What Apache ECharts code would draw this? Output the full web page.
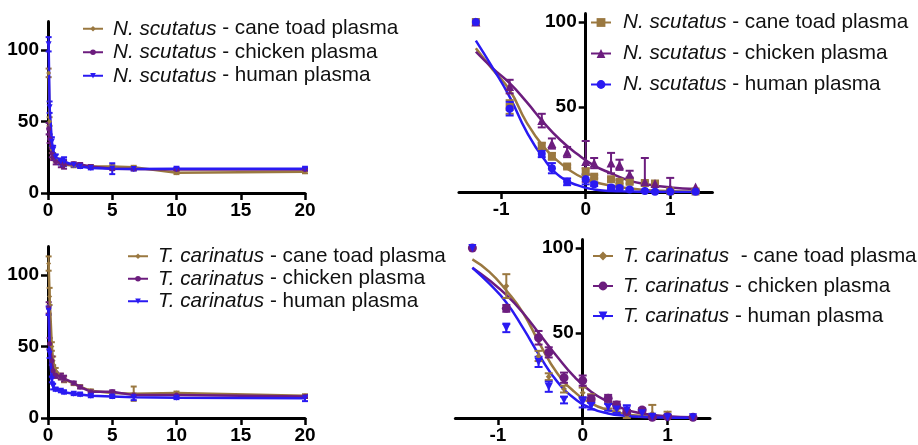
<!DOCTYPE html>
<html><head><meta charset="utf-8">
<script src="https://cdn.jsdelivr.net/npm/echarts@6/dist/echarts.min.js"></script>
<style>html,body{margin:0;padding:0;background:#fff}#c{width:918px;height:445px}</style>
</head><body><div id="c"></div>
<script>
const FONT = '"Liberation Sans", Arial, sans-serif';
const C_TOAD = '#9A7840', C_CHICK = '#6C1D7E', C_HUMAN = '#2A1AF2';

// x values: time-course (left panels) and log10 (right panels)
const linX = [0.05, 0.125, 0.3, 0.4, 0.6, 1, 1.25, 2, 2.5, 3.33, 5, 6.67, 10, 20];
const logX = [-1.3, -0.9, -0.52, -0.4, -0.22, 0, 0.1, 0.3, 0.4, 0.52, 0.7, 0.82, 1, 1.3];
const fitX = [-1.3, -1.1, -0.9, -0.7, -0.5, -0.3, -0.1, 0.1, 0.3, 0.5, 0.7, 1.0, 1.3];

// tick labels
const linTicksX = [0, 5, 10, 15, 20];
const linTicksY = [0, 50, 100];
const logTicksX = [-1, 0, 1];
const logTicksY = [50, 100];

// N. scutatus - left (time course)
const tlToad    = [84, 50, 30, 26, 23, 21, 20, 19, 19, 18.5, 18.5, 18, 14.2, 14.8];
const tlChicken = [45, 38, 28, 25, 22, 21, 20, 20.5, 20, 18.5, 17, 16.8, 16.5, 16.5];
const tlHuman   = [104, 60, 36, 30, 25, 22, 22, 19.5, 18.5, 17.5, 17, 16.8, 17, 17];
const tlToadErr    = [3, 3, 2, 2, 1, 1, 1, 1, 1, 1, 1, 1, 1, 1];
const tlChickenErr = [4, 3, 3, 2, 2, 3, 3, 1, 1, 1, 1, 1, 1, 1];
const tlHumanErr   = [5, 4, 3, 3, 2, 2, 3, 1, 1, 1, 3.8, 1, 1, 1];

// N. scutatus - right (log scale)
const trToad    = [100, 50, 27, 21, 15, 12, 9, 7.5, 6, 6, 5.3, 5, 0.5, 0.3];
const trChicken = [100, 62, 42, 28.5, 23.5, 18, 17, 17, 16, 10.5, 6, 5, 2.3, 3];
const trHuman   = [100, 49, 22.5, 14, 6, 7.5, 4.5, 2.7, 2.4, 1.4, 0.6, 0.2, 0.2, 0.2];
const trToadErr    = [0, 4, 2, 2, 1, 2, 1, 1, 1, 1, 1, 1, 1, 1];
const trChickenErr = [0, 4, 4, 3, 3, 12, 3, 6, 3, 2, 14, 0, 6, 0];
const trHumanErr   = [0, 4, 2, 3, 2, 3, 1, 1, 1, 0.5, 0.5, 0.5, 0.5, 0.5];
const trToadFit    = [84.5, 72, 60, 41, 26.7, 17, 10, 6, 3.7, 2.2, 1.2, 0.5, 0.3];
const trChickenFit = [82.5, 72.7, 64, 53, 41, 30.6, 22.3, 15.5, 11, 7, 4.7, 2.7, 1.8];
const trHumanFit   = [89, 73, 56, 35.5, 19.8, 9, 4, 1.5, 0.6, 0.3, 0.1, 0, 0];

// T. carinatus - left (time course)
const blToad    = [108, 85, 50, 40, 33, 29, 27, 24, 22, 19, 17.5, 17, 17.5, 15.6];
const blChicken = [77, 52, 40, 33, 30, 29, 27.6, 24.5, 21.6, 18.4, 18.4, 16, 16, 15];
const blHuman   = [75, 45, 27, 22, 20, 19, 18, 17, 16.5, 15.5, 15, 14.5, 14.2, 13.8];
const blToadErr    = [5, 6, 3, 3, 2, 2, 2, 1, 1, 1, 1, 5, 1, 1];
const blChickenErr = [4, 4, 3, 3, 2, 2, 2, 1, 1, 1, 1, 1, 1, 1];
const blHumanErr   = [3, 3, 2, 2, 1, 1, 1, 1, 1, 1, 1, 2, 1, 2];

// T. carinatus - right (log scale)
const brToad    = [100, 77.6, 36.5, 24.3, 17, 14.9, 12, 7.6, 4.7, 1.4, 3, 2.7, 2.7, 0.3];
const brChicken = [100, 64.5, 47.2, 38.6, 23.7, 22, 11.2, 11.6, 7.6, 3.7, 4.7, 0.4, 0.8, 0.4];
const brHuman   = [100, 53, 33, 18.4, 10.6, 9.2, 7, 6.3, 5, 4.5, 2.8, 0.8, 0.4, 0.4];
const brToadErr    = [0, 7, 3, 2, 2, 3, 2, 2, 1, 2, 2, 5, 1, 0];
const brChickenErr = [0, 2, 4, 3, 3, 3, 2, 2, 2, 1, 1, 1, 1, 0];
const brHumanErr   = [0, 2.5, 3, 3, 2, 3, 2, 2, 2, 3, 2, 1, 1, 0];
const brToadFit    = [93.3, 86, 75, 61.6, 43, 26.3, 15.5, 8.6, 4.7, 2.4, 1.2, 0.5, 0.2];
const brChickenFit = [88.4, 81, 72.4, 61.6, 48.8, 36, 24.3, 15.5, 9.6, 5.1, 2.7, 1, 0.4];
const brHumanFit   = [88.4, 79, 68, 52.7, 36, 21.4, 11.6, 5.7, 2.7, 1.3, 0.6, 0.2, 0.1];

// legend texts
const legendText = {
  tlToad: ['N. scutatus', ' - cane toad plasma'],
  tlChicken: ['N. scutatus', ' - chicken plasma'],
  tlHuman: ['N. scutatus', ' - human plasma'],
  trToad: ['N. scutatus', ' - cane toad plasma'],
  trChicken: ['N. scutatus', ' - chicken plasma'],
  trHuman: ['N. scutatus', ' - human plasma'],
  blToad: ['T. carinatus', ' - cane toad plasma'],
  blChicken: ['T. carinatus', ' - chicken plasma'],
  blHuman: ['T. carinatus', ' - human plasma'],
  brToad: ['T. carinatus', '  - cane toad plasma'],
  brChicken: ['T. carinatus', ' - chicken plasma'],
  brHuman: ['T. carinatus', ' - human plasma']
};

const TRI_DOWN = 'path://M0,0 L10,0 L5,9 Z';

const chart = echarts.init(document.getElementById('c'));

const grids = [
  { left: 48, top: 21.4, width: 257, height: 171.6 },
  { left: 458.95, top: 13.5, width: 253.5, height: 178.5 },
  { left: 48, top: 246.4, width: 257, height: 171.6 },
  { left: 455.4, top: 239.5, width: 254.6, height: 178.5 }
];

const axisLine = { show: true, lineStyle: { color: '#000', width: 3 } };
const tickStyle = { lineStyle: { color: '#000', width: 2.5 }, length: 7, inside: false };
const labelStyle = { color: '#000', fontFamily: FONT, fontWeight: 'bold', fontSize: 19 };

function linXAxis(gi) {
  return { type: 'value', gridIndex: gi, min: 0, max: 20, interval: 5,
    axisLine, splitLine: { show: false },
    axisTick: Object.assign({ show: true, customValues: linTicksX }, tickStyle),
    axisLabel: Object.assign({ margin: 8, customValues: linTicksX }, labelStyle) };
}
function linYAxis(gi) {
  return { type: 'value', gridIndex: gi, min: 0, max: 120,
    axisLine, splitLine: { show: false },
    axisTick: Object.assign({ show: true, customValues: linTicksY }, tickStyle),
    axisLabel: Object.assign({ margin: 9, customValues: linTicksY }, labelStyle) };
}
function logXAxis(gi) {
  return { type: 'value', gridIndex: gi, min: -1.5, max: 1.5,
    axisLine, splitLine: { show: false },
    axisTick: Object.assign({ show: true, customValues: logTicksX }, tickStyle),
    axisLabel: Object.assign({ margin: 8, customValues: logTicksX }, labelStyle) };
}
// y axis of log panels sits at x = 0: shift it inwards by the distance from grid left edge to x = 0
function logYAxis(gi) {
  const g = grids[gi];
  const shift = g.width * (1.5 / 3);
  return { type: 'value', gridIndex: gi, min: 0, max: 105, position: 'left', offset: -shift,
    axisLine: Object.assign({ onZero: false }, axisLine), splitLine: { show: false },
    axisTick: Object.assign({ show: true, customValues: logTicksY }, tickStyle),
    axisLabel: Object.assign({ margin: 9, customValues: logTicksY }, labelStyle) };
}

function errSeries(gi, xs, ys, es, color, cap, lw) {
  const data = [];
  xs.forEach((x, i) => { if (es[i] > 0) data.push([x, Math.max(0, ys[i] - es[i]), ys[i] + es[i]]); });
  return {
    type: 'custom', xAxisIndex: gi, yAxisIndex: gi, z: 3, silent: true,
    encode: { x: 0, y: [1, 2] },
    data,
    renderItem(params, api) {
      const x = api.value(0);
      const p1 = api.coord([x, api.value(1)]);
      const p2 = api.coord([x, api.value(2)]);
      const st = { stroke: color, lineWidth: lw };
      return { type: 'group', children: [
        { type: 'line', shape: { x1: p1[0], y1: p1[1], x2: p2[0], y2: p2[1] }, style: st },
        { type: 'line', shape: { x1: p1[0] - cap, y1: p1[1], x2: p1[0] + cap, y2: p1[1] }, style: st },
        { type: 'line', shape: { x1: p2[0] - cap, y1: p2[1], x2: p2[0] + cap, y2: p2[1] }, style: st }
      ] };
    }
  };
}

function pair(xs, ys) { return xs.map((x, i) => [x, ys[i]]); }

function timeLine(gi, name, xs, ys, color, symbol, size) {
  return { type: 'line', name, xAxisIndex: gi, yAxisIndex: gi, z: 4,
    data: pair(xs, ys), symbol, symbolSize: size, showSymbol: true,
    lineStyle: { color, width: 2.5 }, itemStyle: { color }, animation: false };
}
function fitLine(gi, name, ys, color, symbol) {
  return { type: 'line', name, xAxisIndex: gi, yAxisIndex: gi, z: 2,
    data: pair(fitX, ys), smooth: 0.5, symbol, showSymbol: false,
    lineStyle: { color, width: 2.5 }, itemStyle: { color }, animation: false };
}
function pts(gi, ys, color, symbol, size) {
  return { type: 'scatter', name: 'pts' + gi + color, xAxisIndex: gi, yAxisIndex: gi, z: 4,
    data: pair(logX, ys), symbol, symbolSize: size, itemStyle: { color, opacity: 1 }, animation: false };
}

const series = [
  // top-left
  errSeries(0, linX, tlToad, tlToadErr, C_TOAD, 3, 2),
  errSeries(0, linX, tlChicken, tlChickenErr, C_CHICK, 3, 2),
  errSeries(0, linX, tlHuman, tlHumanErr, C_HUMAN, 3, 2),
  timeLine(0, 'tlToad', linX, tlToad, C_TOAD, 'diamond', 5),
  timeLine(0, 'tlChicken', linX, tlChicken, C_CHICK, 'circle', 5),
  timeLine(0, 'tlHuman', linX, tlHuman, C_HUMAN, TRI_DOWN, 6),
  // top-right
  fitLine(1, 'trToad', trToadFit, C_TOAD, 'rect'),
  fitLine(1, 'trChicken', trChickenFit, C_CHICK, 'triangle'),
  fitLine(1, 'trHuman', trHumanFit, C_HUMAN, 'circle'),
  errSeries(1, logX, trToad, trToadErr, C_TOAD, 4, 2),
  errSeries(1, logX, trChicken, trChickenErr, C_CHICK, 4, 2),
  errSeries(1, logX, trHuman, trHumanErr, C_HUMAN, 4, 2),
  pts(1, trToad, C_TOAD, 'rect', 8),
  pts(1, trChicken, C_CHICK, 'triangle', 9),
  pts(1, trHuman, C_HUMAN, 'circle', 8),
  // bottom-left
  errSeries(2, linX, blToad, blToadErr, C_TOAD, 3, 2),
  errSeries(2, linX, blChicken, blChickenErr, C_CHICK, 3, 2),
  errSeries(2, linX, blHuman, blHumanErr, C_HUMAN, 3, 2),
  timeLine(2, 'blToad', linX, blToad, C_TOAD, 'diamond', 5),
  timeLine(2, 'blChicken', linX, blChicken, C_CHICK, 'circle', 5),
  timeLine(2, 'blHuman', linX, blHuman, C_HUMAN, TRI_DOWN, 6),
  // bottom-right
  fitLine(3, 'brToad', brToadFit, C_TOAD, 'diamond'),
  fitLine(3, 'brChicken', brChickenFit, C_CHICK, 'circle'),
  fitLine(3, 'brHuman', brHumanFit, C_HUMAN, TRI_DOWN),
  errSeries(3, logX, brToad, brToadErr, C_TOAD, 4, 2),
  errSeries(3, logX, brChicken, brChickenErr, C_CHICK, 4, 2),
  errSeries(3, logX, brHuman, brHumanErr, C_HUMAN, 4, 2),
  pts(3, brToad, C_TOAD, 'diamond', 6),
  pts(3, brChicken, C_CHICK, 'circle', 9),
  pts(3, brHuman, C_HUMAN, TRI_DOWN, 8)
];

function legend(names, left, top, lh, iw, ih, pad) {
  return {
    data: names, orient: 'vertical', left, top, itemGap: 0,
    itemWidth: iw, itemHeight: ih, padding: 0, selectedMode: false,
    formatter: n => '{i|' + legendText[n][0] + '}' + legendText[n][1],
    textStyle: {
      color: '#111', fontFamily: FONT, fontSize: 20.7, lineHeight: lh,
      padding: [0, 0, 0, pad],
      rich: { i: { fontStyle: 'italic', fontFamily: FONT, fontSize: 20.7, lineHeight: lh, color: '#111' } }
    }
  };
}

chart.setOption({
  backgroundColor: '#fff',
  animation: false,
  grid: grids,
  xAxis: [linXAxis(0), logXAxis(1), linXAxis(2), logXAxis(3)],
  yAxis: [linYAxis(0), logYAxis(1), linYAxis(2), logYAxis(3)],
  legend: [
    legend(['tlToad', 'tlChicken', 'tlHuman'], 82, 17, 23.5, 20, 7, 5),
    legend(['trToad', 'trChicken', 'trHuman'], 590, 7, 31, 20, 11, 7),
    legend(['blToad', 'blChicken', 'blHuman'], 127, 245, 22.5, 20, 7, 5),
    legend(['brToad', 'brChicken', 'brHuman'], 592, 241, 30, 20, 11, 5)
  ],
  series
});
</script></body></html>
